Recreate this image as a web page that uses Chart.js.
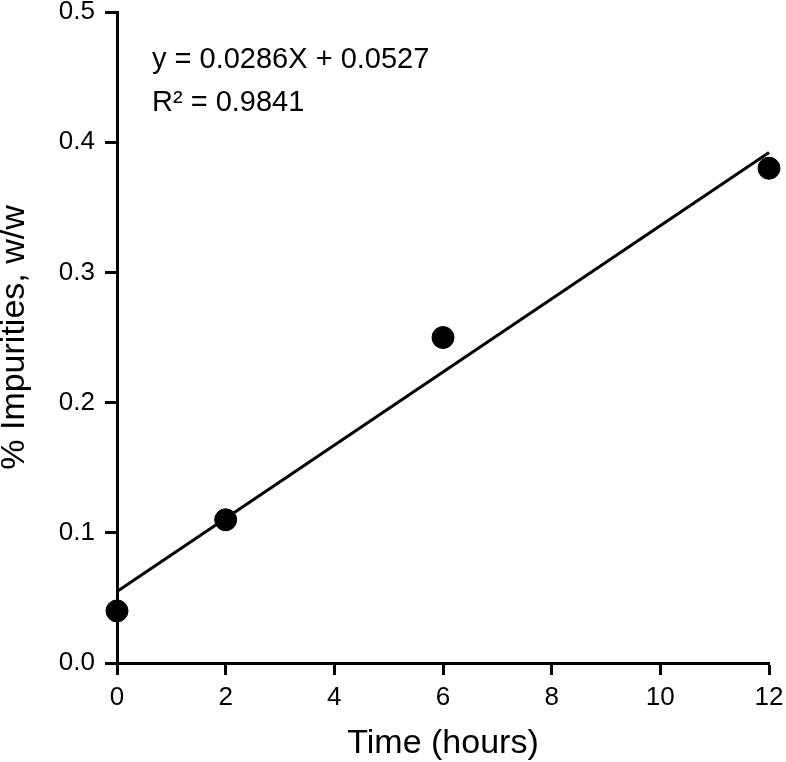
<!DOCTYPE html>
<html>
<head>
<meta charset="utf-8">
<script src="https://cdn.jsdelivr.net/npm/chart.js@4"></script>
<style>
  body { margin: 0; background: #fff; }
</style>
</head>
<body>
<canvas id="grafico" width="786" height="762"></canvas>
<script>
const tempos = [0, 2, 6, 12];
const impurezas = [0.04, 0.11, 0.25, 0.38];
const ajusteX = [0, 12];
const ajusteY = [0.055, 0.392];
const equacao = 'y = 0.0286X + 0.0527';
const r2 = 'R\u00B2 = 0.9841';

const fonte = 'Liberation Sans, Arial, sans-serif';

const anotacao = {
  id: 'anotacao',
  afterDraw(chart) {
    const { ctx, chartArea } = chart;
    ctx.save();
    ctx.fillStyle = '#000';
    ctx.font = '29px ' + fonte;
    ctx.textBaseline = 'alphabetic';
    ctx.fillText(equacao, chartArea.left + 35, 68);
    ctx.fillText(r2, chartArea.left + 35, 111);
    ctx.restore();
  }
};

const ctx = document.getElementById('grafico').getContext('2d');

const chart = new Chart(ctx, {
  type: 'scatter',
  data: {
    datasets: [
      {
        type: 'line',
        label: 'Ajuste',
        data: ajusteX.map((x, i) => ({ x, y: ajusteY[i] })),
        borderColor: '#000',
        borderWidth: 3,
        pointRadius: 0,
        fill: false,
        clip: false
      },
      {
        label: 'Impurezas',
        data: tempos.map((x, i) => ({ x, y: impurezas[i] })),
        backgroundColor: '#000',
        borderColor: '#000',
        pointRadius: 11,
        clip: false
      }
    ]
  },
  options: {
    responsive: false,
    animation: false,
    layout: { padding: { left: 0, right: 17, top: 11, bottom: 0 } },
    plugins: {
      legend: { display: false },
      tooltip: { enabled: false }
    },
    scales: {
      x: {
        type: 'linear',
        min: 0,
        max: 12,
        afterFit(scale) {
          scale.height = 99;
          scale.paddingLeft = 0;
          scale.paddingRight = 0;
        },
        border: { color: '#000', width: 3 },
        grid: { drawOnChartArea: false, drawTicks: true, tickLength: 12, tickColor: '#000', tickWidth: 3 },
        ticks: { stepSize: 2, color: '#000', padding: 10, font: { family: fonte, size: 26, lineHeight: 1 } },
        title: { display: true, text: 'Time (hours)', color: '#000', padding: { top: 0, bottom: 0 }, font: { family: fonte, size: 34, lineHeight: 1.1 } }
      },
      y: {
        min: 0,
        max: 0.5,
        afterFit(scale) {
          scale.width = 117;
          scale.paddingTop = 0;
          scale.paddingBottom = 0;
        },
        border: { color: '#000', width: 3 },
        grid: { drawOnChartArea: false, drawTicks: true, tickLength: 12, tickColor: '#000', tickWidth: 3 },
        ticks: { stepSize: 0.1, color: '#000', padding: 10, font: { family: fonte, size: 26, lineHeight: 1 }, callback: v => v.toFixed(1) },
        title: { display: true, text: '% Impurities, w/w', color: '#000', padding: { top: 0, bottom: 0 }, font: { family: fonte, size: 34, lineHeight: 0.85 } }
      }
    }
  },
  plugins: [anotacao]
});
</script>
</body>
</html>
